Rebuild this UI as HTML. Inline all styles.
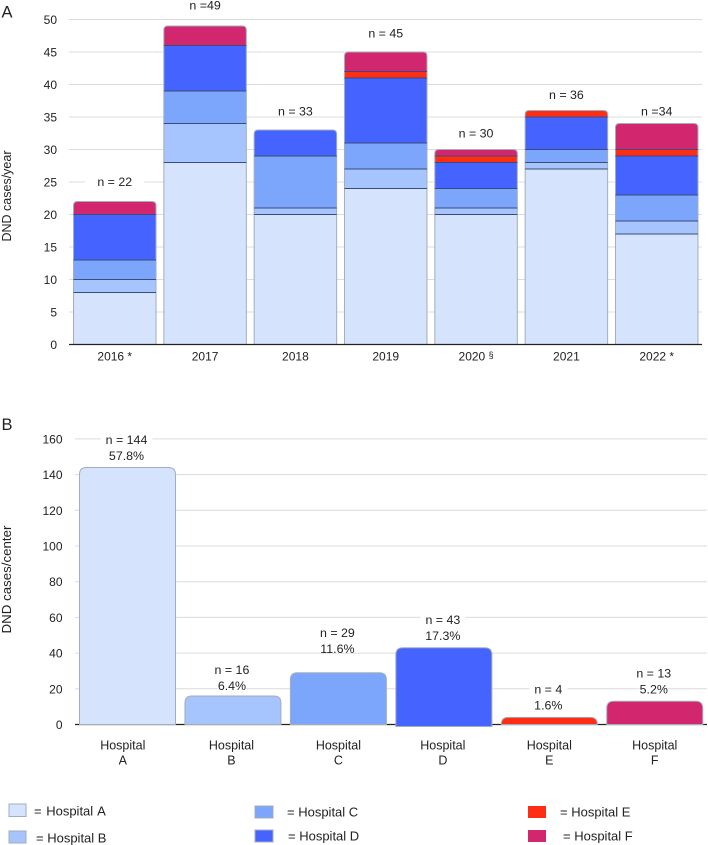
<!DOCTYPE html>
<html lang="en">
<head>
<meta charset="utf-8">
<title>DND cases per year and per center</title>
<style>
html,body{margin:0;padding:0;background:#fff;}
#figure{display:block;filter:blur(0.3px);}
text{font-family:"Liberation Sans",sans-serif;fill:#222;}
</style>
</head>
<body>
<svg id="figure" xmlns="http://www.w3.org/2000/svg" width="708" height="845" viewBox="0 0 708 845">
  <text x="1.5" y="17.5" font-size="16.5">A</text>
  <text x="1.5" y="430" font-size="16.5">B</text>
  <text transform="translate(11,196) rotate(-90)" text-anchor="middle" font-size="12.5">DND cases/year</text>
  <text transform="translate(11,579.5) rotate(-90)" text-anchor="middle" font-size="13.3">DND cases/center</text>
  <g id="chartA"></g>
  <g id="chartB"></g>
  <g>
    <g>
      <rect x="9" y="804" width="17" height="12.5" fill="#d5e3fd" stroke="#a3adbd"/>
      <text x="34" y="815.5" font-size="13" word-spacing="1">= Hospital A</text>
    </g>
    <g>
      <rect x="9" y="831" width="17" height="12" fill="#a6c4fd" stroke="#a3adbd"/>
      <text x="36" y="842.5" font-size="13">= Hospital B</text>
    </g>
    <g>
      <rect x="255" y="806" width="18" height="12" fill="#7ca5fc" stroke="#a3adbd"/>
      <text x="287" y="816.5" font-size="13">= Hospital C</text>
    </g>
    <g>
      <rect x="255" y="830" width="18" height="12" fill="#4563fe" stroke="#a3adbd"/>
      <text x="288" y="840.5" font-size="13">= Hospital D</text>
    </g>
    <g>
      <rect x="528" y="806" width="18" height="12" fill="#ff2d14"/>
      <text x="560" y="816.5" font-size="13">= Hospital E</text>
    </g>
    <g>
      <rect x="528" y="830" width="18" height="12" fill="#d2276f"/>
      <text x="563" y="840.5" font-size="13">= Hospital F</text>
    </g>
  </g>
</svg>
<script>
// ---- Panel A data ----
const years = ["2016 *", "2017", "2018", "2019", "2020 §", "2021", "2022 *"];
const hospitalA = [8, 28, 20, 24, 20, 27, 17];
const hospitalB = [2, 6, 1, 3, 1, 1, 2];
const hospitalC = [3, 5, 8, 4, 3, 2, 4];
const hospitalD = [7, 7, 4, 10, 4, 5, 6];
const hospitalE = [0, 0, 0, 1, 1, 1, 1];
const hospitalF = [2, 3, 0, 3, 1, 0, 4];
const yearLabels = ["n = 22", "n =49", "n = 33", "n = 45", "n = 30", "n = 36", "n =34"];
const yearTicks = [0, 5, 10, 15, 20, 25, 30, 35, 40, 45, 50];

// ---- Panel B data ----
const hospitals = ["A", "B", "C", "D", "E", "F"];
const centerCases = [144, 16, 29, 43, 4, 13];
const centerCounts = ["n = 144", "n = 16", "n = 29", "n = 43", "n = 4", "n = 13"];
const centerShares = ["57.8%", "6.4%", "11.6%", "17.3%", "1.6%", "5.2%"];
const centerTicks = [0, 20, 40, 60, 80, 100, 120, 140, 160];

const seriesA = [hospitalA, hospitalB, hospitalC, hospitalD, hospitalE, hospitalF];
const seriesColors = ["#d5e3fd", "#a6c4fd", "#7ca5fc", "#4563fe", "#ff2d14", "#d2276f"];
const NS = "http://www.w3.org/2000/svg";

function make(tag, parent) {
  const el = document.createElementNS(NS, tag);
  parent.appendChild(el);
  return el;
}
function topRounded(x, y0, w, y1, r) {
  const rr = Math.min(r, (y1 - y0));
  return "M" + x + " " + y1 + "V" + (y0 + rr) + "Q" + x + " " + y0 + " " + (x + rr) + " " + y0 +
    "H" + (x + w - rr) + "Q" + (x + w) + " " + y0 + " " + (x + w) + " " + (y0 + rr) + "V" + y1 + "Z";
}
function flat(x, y0, w, y1) {
  return "M" + x + " " + y1 + "V" + y0 + "H" + (x + w) + "V" + y1 + "Z";
}
function labelWithBackground(parent, str, cx, cy, pad, size) {
  const bg = make("rect", parent);
  
  
  bg.setAttribute("fill", "#fff");
  const t = make("text", parent);
  
  
  t.setAttribute("x", cx);
  t.setAttribute("y", cy + 4.3);
  t.setAttribute("text-anchor", "middle");
  t.setAttribute("font-size", size);
  t.textContent = str;
  const b = t.getBBox();
  bg.setAttribute("x", b.x - pad);
  bg.setAttribute("y", cy - 4);
  bg.setAttribute("width", b.width + pad * 2);
  bg.setAttribute("height", 8);
}

// ---- Panel A ----
(function () {
  const g = document.getElementById("chartA");
  const yA = function (v) { return 344.5 - v * 6.5; };
  const xA = function (i) { return 73.5 + i * 90.33; };
  const barW = 82.5;
  const lift = [20, 21, 19, 19, 16.5, 16, 12.5];

  yearTicks.forEach(function (tick) {
    if (tick > 0) {
      const ln = make("line", g);
      
      
      ln.setAttribute("x1", 69);
      ln.setAttribute("x2", 702);
      ln.setAttribute("y1", yA(tick));
      ln.setAttribute("y2", yA(tick));
      ln.setAttribute("stroke", "#dcdcdc");
    }
    const t = make("text", g);
    
    
    t.setAttribute("x", 57);
    t.setAttribute("y", yA(tick) + 4.5);
    t.setAttribute("text-anchor", "end");
    t.setAttribute("font-size", 12);
    t.textContent = tick;
  });

  years.forEach(function (year, i) {
    const x = xA(i);
    let total = 0;
    seriesA.forEach(function (s) { total += s[i]; });
    let cum = 0;
    seriesA.forEach(function (s, k) {
      if (s[i] === 0) return;
      const y1 = yA(cum);
      cum += s[i];
      const y0 = yA(cum);
      const seg = make("path", g);
      
      
      seg.setAttribute("fill", seriesColors[k]);
      seg.setAttribute("d", cum === total ? topRounded(x, y0, barW, y1, 4) : flat(x, y0, barW, y1));
    });
    const outline = make("path", g);
    
    
    outline.setAttribute("fill", "none");
    outline.setAttribute("stroke", "#a3adbd");
    outline.setAttribute("d", topRounded(x, yA(total), barW, yA(0), 4));
    cum = 0;
    seriesA.forEach(function (s) {
      if (s[i] === 0) return;
      cum += s[i];
      if (cum === total) return;
      const d = make("line", g);
      
      
      d.setAttribute("x1", x);
      d.setAttribute("x2", x + barW);
      d.setAttribute("y1", yA(cum));
      d.setAttribute("y2", yA(cum));
      d.setAttribute("stroke", "#3c4c78");
    });
    labelWithBackground(g, yearLabels[i], x + barW / 2, yA(total) - lift[i], 12, 12.4);
    const tick = make("text", g);
    
    
    tick.setAttribute("x", x + barW / 2);
    tick.setAttribute("y", 360.3);
    tick.setAttribute("text-anchor", "middle");
    tick.setAttribute("font-size", 12);
    if (year.indexOf("§") >= 0) {
      const main = make("tspan", tick);
      main.textContent = year.replace("§", "");
      const mark = make("tspan", tick);
      mark.setAttribute("dy", -2.5);
      mark.setAttribute("font-size", 9);
      mark.textContent = "§";
    } else {
      tick.textContent = year;
    }
  });

  const axis = make("line", g);
  
  
  axis.setAttribute("x1", 69);
  axis.setAttribute("x2", 702);
  axis.setAttribute("y1", yA(0));
  axis.setAttribute("y2", yA(0));
  axis.setAttribute("stroke", "#222");
  axis.setAttribute("stroke-width", 1.3);
})();

// ---- Panel B ----
(function () {
  const g = document.getElementById("chartB");
  const yB = function (v) { return 724.5 - v * 1.785; };
  const xB = function (i) { return 79.5 + i * 105.45; };
  const barW = 96;
  const lift = [12, 10, 24, 12, 12, 12];
  const tickNudge = [-4.7, -1.5, 0, -1, 0, 0];

  centerTicks.forEach(function (tick) {
    if (tick > 0) {
      const ln = make("line", g);
      
      
      ln.setAttribute("x1", 75);
      ln.setAttribute("x2", 707);
      ln.setAttribute("y1", yB(tick));
      ln.setAttribute("y2", yB(tick));
      ln.setAttribute("stroke", "#dcdcdc");
    }
    const t = make("text", g);
    
    
    t.setAttribute("x", 62.5);
    t.setAttribute("y", yB(tick) + 4.5);
    t.setAttribute("text-anchor", "end");
    t.setAttribute("font-size", 12);
    t.textContent = tick;
  });

  const axis = make("line", g);
  
  
  axis.setAttribute("x1", 75);
  axis.setAttribute("x2", 707);
  axis.setAttribute("y1", yB(0));
  axis.setAttribute("y2", yB(0));
  axis.setAttribute("stroke", "#222");
  axis.setAttribute("stroke-width", 1.2);

  hospitals.forEach(function (h, i) {
    const x = xB(i);
    const bottom = h === "D" ? yB(0) + 2 : yB(0);
    const bar = make("path", g);
    
    
    bar.setAttribute("fill", seriesColors[i]);
    bar.setAttribute("stroke", "#a3adbd");
    bar.setAttribute("d", topRounded(x, yB(centerCases[i]), barW, bottom, 7));
    const top = yB(centerCases[i]);
    labelWithBackground(g, centerShares[i], x + barW / 2 - 1, top - lift[i], 0, 12.4);
    labelWithBackground(g, centerCounts[i], x + barW / 2 - 1, top - lift[i] - 16, 5, 12.4);
    const l1 = make("text", g);
    
    
    l1.setAttribute("x", x + barW / 2 + tickNudge[i]);
    l1.setAttribute("y", 749.5);
    l1.setAttribute("text-anchor", "middle");
    l1.setAttribute("font-size", 12.5);
    l1.textContent = "Hospital";
    const l2 = make("text", g);
    
    
    l2.setAttribute("x", x + barW / 2 + tickNudge[i]);
    l2.setAttribute("y", 764.5);
    l2.setAttribute("text-anchor", "middle");
    l2.setAttribute("font-size", 12.5);
    l2.textContent = h;
  });
})();
</script>
</body>
</html>
